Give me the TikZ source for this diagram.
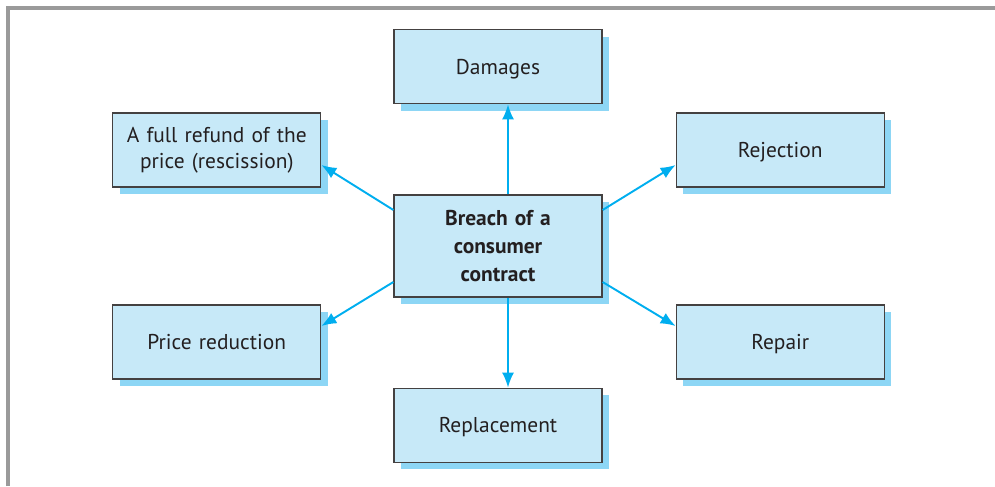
\documentclass[tikz,border=0pt]{standalone}
\usepackage{fontspec}
\setmainfont{PT Sans}
\usepackage{tikz}
\usetikzlibrary{arrows.meta, positioning, shadows}
\definecolor{cajaFondo}{HTML}{C7E9F8}
\definecolor{cajaSombra}{HTML}{8DD6F5}
\definecolor{flechaAzul}{HTML}{00AEEF}
\definecolor{marcoGris}{HTML}{9A9A9A}
\definecolor{textoGris}{HTML}{231F20}

\begin{document}
\begin{tikzpicture}[
        node distance=1.8cm,
        b/.style={draw=textoGris!85, fill=cajaFondo, line width=0.7pt,
            text width=3.9cm, align=center, minimum width=4.16cm, minimum height=1.48cm,
            font=\fontsize{12.2}{14.8}\selectfont, text=textoGris,
            drop shadow={shadow xshift=0.14cm, shadow yshift=-0.14cm, fill=cajaSombra, opacity=1}},
        b1/.style={b, text depth=0pt},
        rel/.style={-{Latex[length=3mm, width=2.4mm]}, flechaAzul, line width=1.1pt}
    ]
        \useasboundingbox (0,0) rectangle (19.9,9.72);
        \draw[marcoGris, line width=2pt] (0.16,0) -- (0.16,9.56) -- (19.9,9.56);
        \node[b, minimum height=2.04cm, font=\bfseries\fontsize{12.2}{16}\selectfont] (c) at (9.96,4.8) {Breach of a\\consumer\\contract};
        \node[b1, above=of c] (dam) {Damages};
        \node[b1, below=of c] (rep) {Replacement};
        \node[b, left=1.44cm of c, yshift=1.92cm] (ref) {A full refund of the\\price (rescission)};
        \node[b1, left=1.44cm of c, yshift=-1.92cm] (red) {Price reduction};
        \node[b1, right=1.46cm of c, yshift=1.92cm] (rej) {Rejection};
        \node[b1, right=1.46cm of c, yshift=-1.92cm] (rpr) {Repair};
        \draw[rel] ([xshift=0.2cm]c.north) -- ([xshift=0.2cm]dam.south); \draw[rel] ([xshift=0.2cm]c.south) -- ([xshift=0.2cm]rep.north);
        \draw[rel] ([yshift=0.72cm]c.west) -- ([yshift=-0.3cm]ref.east); \draw[rel] ([yshift=-0.72cm]c.west) -- ([yshift=0.32cm]red.east);
        \draw[rel] ([yshift=0.72cm]c.east) -- ([yshift=-0.3cm]rej.west); \draw[rel] ([yshift=-0.72cm]c.east) -- ([yshift=0.32cm]rpr.west);
    \end{tikzpicture}
\end{document}
